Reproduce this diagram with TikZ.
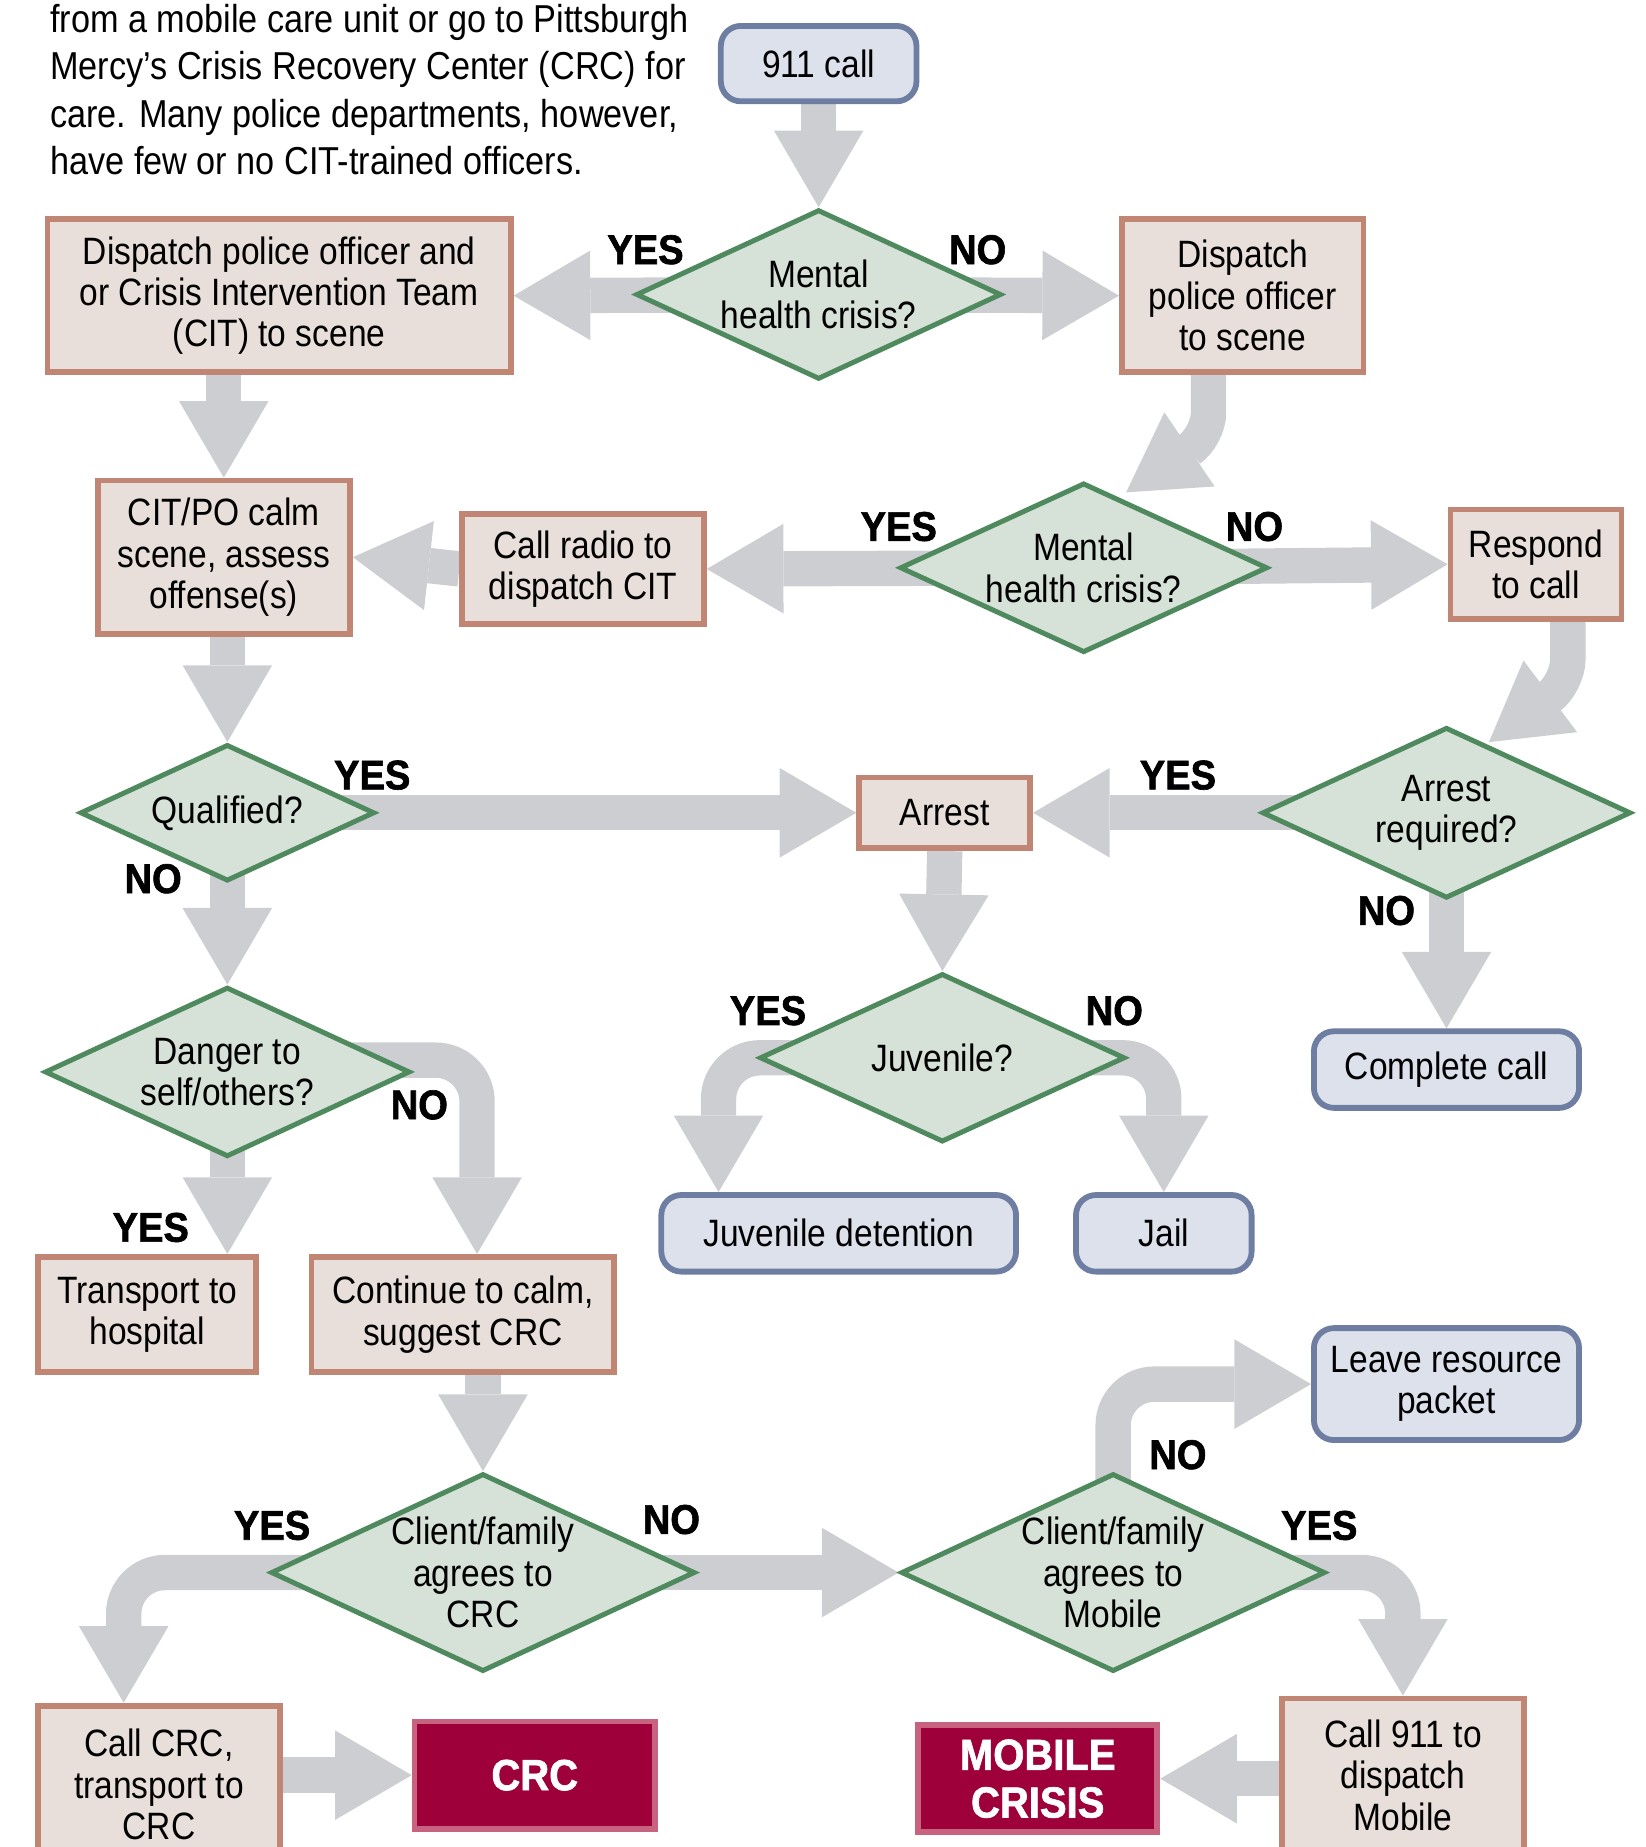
\documentclass[tikz,border=0pt]{standalone}
\usepackage{fontspec}
\setmainfont{Liberation Sans}[FakeStretch=0.88]
\newfontfamily\yesnofont{Liberation Sans}[FakeStretch=0.92,BoldFeatures={FakeBold=1.5}]
\usepackage{tikz}
\usetikzlibrary{arrows.meta,shapes.geometric,backgrounds,calc}
\definecolor{boxfill}{HTML}{E9DFDA}
\definecolor{boxline}{HTML}{C08573}
\definecolor{diafill}{HTML}{D6E1D8}
\definecolor{dialine}{HTML}{4F8A5E}
\definecolor{endfill}{HTML}{DDE1EC}
\definecolor{endline}{HTML}{6E7DA2}
\definecolor{goalfill}{HTML}{9E003A}
\definecolor{goalline}{HTML}{C8637F}
\definecolor{flowgray}{HTML}{CDCED1}

\begin{document}
\begin{tikzpicture}[x=0.01cm,y=-0.01cm,
  every node/.style={font=\fontsize{9.2}{10}\selectfont, align=center},
  stepbox/.style={draw=boxline, fill=boxfill, line width=1.4pt, inner sep=0pt},
  query/.style={diamond, aspect=2.15, draw=dialine, fill=diafill, line width=1.2pt, inner sep=0pt,
    minimum width=3.1cm, minimum height=1.44cm},
  endbox/.style={rounded corners=0.17cm, draw=endline, fill=endfill, line width=1.4pt, inner sep=0pt},
  goal/.style={draw=goalline, fill=goalfill, line width=1.4pt, text=white, inner sep=0pt,
    font=\yesnofont\bfseries\fontsize{10.5}{11.5}\selectfont},
  answer/.style={font=\yesnofont\bfseries\fontsize{10}{10}\selectfont},
  flow/.style={draw=flowgray, line width=0.3cm, rounded corners=0.35cm,
    -{Triangle[length=0.65cm,width=0.76cm,line width=0pt]}},
]
\useasboundingbox (0,0) rectangle (1397,1568);

\node[anchor=north west, inner sep=0pt, align=left, font=\fontsize{9.4}{11.4}\selectfont] (intro) at (42,3)
  {from a mobile care unit or go to Pittsburgh\\
   Mercy's Crisis Recovery Center (CRC) for\\
   care. Many police departments, however,\\
   have few or no CIT-trained officers.};

% first call
\node[endbox, minimum width=1.66cm, minimum height=0.64cm] (call) at (695,54) {911 call};
\node[query] (crisisA) at (695,250) {Mental\\health crisis?};
\node[stepbox, minimum width=3.93cm, minimum height=1.3cm] (sendcit) at (237,251)
  {Dispatch police officer and\\or Crisis Intervention Team\\(CIT) to scene};
\node[stepbox, minimum width=2.05cm, minimum height=1.3cm] (sendpo) at (1055,251)
  {Dispatch\\police officer\\to scene};

% on scene
\node[stepbox, minimum width=2.14cm, minimum height=1.3cm] (calm) at (190,473)
  {CIT/PO calm\\scene, assess\\offense(s)};
\node[stepbox, minimum width=2.05cm, minimum height=0.93cm] (radio) at (495,483)
  {Call radio to\\dispatch CIT};
\node[query, minimum width=3.12cm] (crisisB) at (920,482) {Mental\\health crisis?};
\node[stepbox, minimum width=1.45cm, minimum height=0.93cm] (respond) at (1304,479)
  {Respond\\to call};

% arrest branch
\node[query, minimum width=2.5cm, minimum height=1.16cm] (qualified) at (193,690) {Qualified?};
\node[stepbox, minimum width=1.45cm, minimum height=0.6cm] (arrest) at (802,690) {Arrest};
\node[query, minimum width=3.13cm, minimum height=1.45cm] (required) at (1228,690) {Arrest\\required?};
\node[query] (danger) at (193,910) {Danger to\\self/others?};
\node[query, minimum height=1.43cm] (juvenile) at (800,898) {Juvenile?};
\node[endbox, minimum width=2.25cm, minimum height=0.65cm] (complete) at (1228,908) {Complete call};
\node[endbox, minimum width=3.01cm, minimum height=0.65cm] (detention) at (712,1047) {Juvenile detention};
\node[endbox, minimum width=1.49cm, minimum height=0.65cm] (jail) at (988,1047) {Jail};
\node[stepbox, minimum width=1.85cm, minimum height=0.98cm] (hospital) at (125,1116)
  {Transport to\\hospital};
\node[stepbox, minimum width=2.57cm, minimum height=0.98cm] (suggest) at (393,1116)
  {Continue to calm,\\suggest CRC};

% care options
\node[endbox, minimum width=2.25cm, minimum height=0.95cm] (packet) at (1228,1175)
  {Leave resource\\packet};
\node[query, minimum width=3.6cm, minimum height=1.68cm] (agreeCRC) at (410,1335)
  {Client/family\\agrees to\\CRC};
\node[query, minimum width=3.6cm, minimum height=1.68cm] (agreeMob) at (945,1335)
  {Client/family\\agrees to\\Mobile};
\node[stepbox, minimum width=2.05cm, minimum height=1.34cm] (callcrc) at (135,1515)
  {Call CRC,\\transport to\\CRC};
\node[goal, minimum width=2.04cm, minimum height=0.91cm] (crc) at (454,1507) {CRC};
\node[goal, minimum width=2.03cm, minimum height=0.91cm] (mobile) at (881,1510) {MOBILE\\CRISIS};
\node[stepbox, minimum width=2.05cm, minimum height=1.3cm] (callmob) at (1191,1507)
  {Call 911 to\\dispatch\\Mobile};

% yes / no
\node[answer] (y1) at (548,212) {YES};
\node[answer] (n1) at (830,212) {NO};
\node[answer] (y2) at (763,447) {YES};
\node[answer] (n2) at (1065,447) {NO};
\node[answer] (y3) at (316,658) {YES};
\node[answer] (n3) at (130,746) {NO};
\node[answer] (y4) at (1000,658) {YES};
\node[answer] (n4) at (1177,773) {NO};
\node[answer] (y5) at (652,858) {YES};
\node[answer] (n5) at (946,858) {NO};
\node[answer] (n6) at (356,938) {NO};
\node[answer] (y6) at (128,1042) {YES};
\node[answer] (n7) at (1000,1235) {NO};
\node[answer] (y7) at (231,1295) {YES};
\node[answer] (n8) at (570,1290) {NO};
\node[answer] (y8) at (1120,1295) {YES};

\begin{scope}[on background layer]
\draw[flow] (call.south) -- (crisisA.north);
\draw[flow] (crisisA.center) -- (sendcit.east);
\draw[flow] (crisisA.center) -- (sendpo.west);
\draw[flow, rounded corners=0.2cm] ($(sendpo.south)+(-29,0)$) -- ++(0,52) -- (956,418);
\draw[flow] (crisisB.center) -- (radio.east);
\draw[flow] (crisisB.center) -- (respond.west);
\draw[flow] (radio.west) -- (calm.east);
\draw[flow] (sendcit.south -| calm.north) -- (calm.north);
\draw[flow] (calm.south -| qualified.north) -- (qualified.north);
\draw[flow, rounded corners=0.2cm] ($(respond.south)+(27,0)$) -- ++(0,52) -- (1264,630);
\draw[flow] (qualified.center) -- (arrest.west);
\draw[flow] (required.center) -- (arrest.east);
\draw[flow] (required.center) -- (complete.north);
\draw[flow] (arrest.south) -- (juvenile.north);
\draw[flow] (qualified.center) -- (danger.north);
\draw[flow] (juvenile.center) -| ($(detention.north)+(-102,0)$);
\draw[flow] (juvenile.center) -| (jail.north);
\draw[flow] ($(danger.center)+(0,-10)$) -| ($(suggest.north)+(12,0)$);
\draw[flow] (danger.center) -- (danger.center |- hospital.north);
\draw[flow] (suggest.south -| agreeCRC.north) -- (agreeCRC.north);
\draw[flow] (agreeCRC.center) -| ($(callcrc.north)+(-30,0)$);
\draw[flow] (agreeCRC.center) -- (agreeMob.west);
\draw[flow] (agreeMob.center) |- (packet.west);
\draw[flow] (agreeMob.center) -| (callmob.north);
\draw[flow] (callcrc.east |- crc.west) -- (crc.west);
\draw[flow] (callmob.west |- mobile.east) -- (mobile.east);
\end{scope}
\end{tikzpicture}
\end{document}
